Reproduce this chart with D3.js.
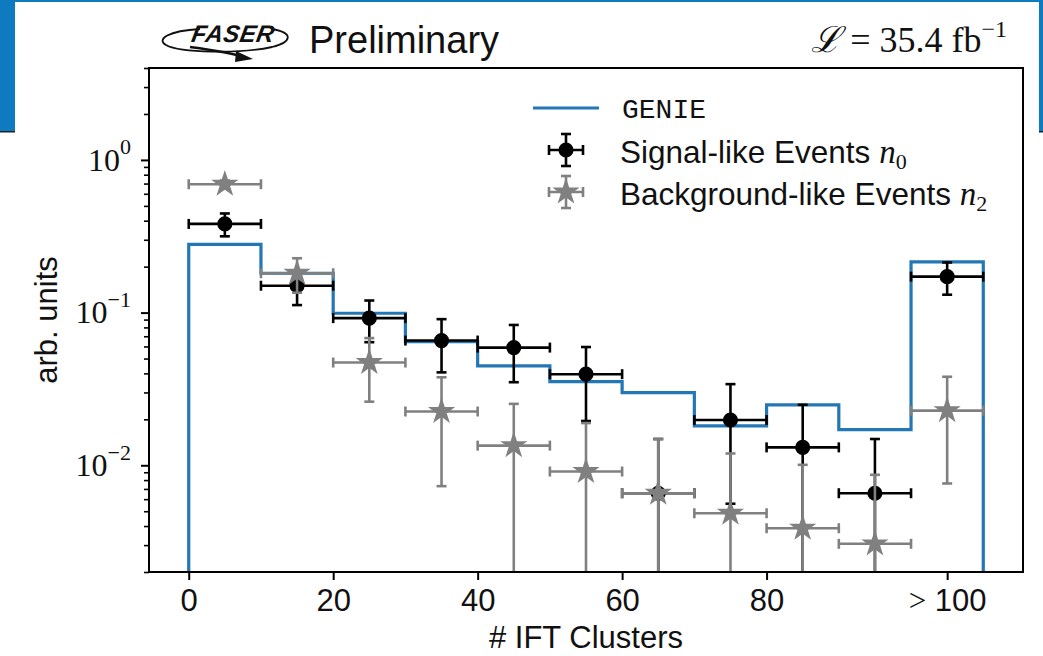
<!DOCTYPE html>
<html><head><meta charset="utf-8">
<script src="https://cdn.jsdelivr.net/npm/d3@7"></script>
<style>body{margin:0;background:#fff}svg{display:block}</style>
</head><body>
<svg id="c" width="1043" height="656"></svg>
<script>
// ---- data ----
const binEdges = [0,10,20,30,40,50,60,70,80,90,100,110];
const binCenters = [5,15,25,35,45,55,65,75,85,95,105];
const genie = [0.280,0.181,0.099,0.0645,0.0448,0.0353,0.0299,0.0181,0.0249,0.0171,0.215];
const signal = [0.381,0.150,0.092,0.0656,0.059,0.0395,0.00656,0.0198,0.0131,0.00656,0.172];
const signalErr = [0.065,0.038,0.028,0.025,0.024,0.020,0.0083,0.0142,0.0118,0.0083,0.041];
const background = [0.693,0.181,0.0471,0.0225,0.01345,0.0091,0.00656,0.00485,0.00387,0.00306,0.0228];
const backgroundErr = [0.04,0.046,0.021,0.0152,0.0118,0.0098,0.0083,0.0071,0.0062,0.0056,0.0152];
const xTickValues = [0,20,40,60,80,105];
const xTickLabels = ["0","20","40","60","80",">100"];
const yTickValues = [0.01,0.1,1];
const yTickExponents = ["\u22122","\u22121","0"];

const W=1043,H=656;
const L=149,R=1023,T=68,B=572;
const BLUE="#2477b5", GRAY="#808080";
const svg=d3.select("#c");

// header frame
svg.append("rect").attr("x",0).attr("y",0).attr("width",W).attr("height",131).attr("fill","#0e7ac0");
svg.append("rect").attr("x",15).attr("y",2).attr("width",1024).attr("height",129).attr("fill","#fff");
svg.append("rect").attr("x",0).attr("y",131).attr("width",W).attr("height",1.5).attr("fill","#222");
svg.append("rect").attr("x",15).attr("y",131).attr("width",1024).attr("height",2).attr("fill","#fff");

// logo
const lg=svg.append("g");
lg.append("path").attr("d","M200,29 C168,31 156,39 166,45 C180,53 240,54 272,47 C292,42 294,33 272,29")
  .attr("fill","none").attr("stroke","#111").attr("stroke-width",1.8);
lg.append("path").attr("d","M190,47 C212,50 232,53 244,57").attr("fill","none").attr("stroke","#111").attr("stroke-width",2.4);
lg.append("path").attr("d","M236,51 L253,59 L235,62 Z").attr("fill","#111");
lg.append("text").attr("x",192).attr("y",42).attr("font-family","Liberation Sans").attr("font-weight","bold")
  .attr("font-style","italic").attr("font-size",24).attr("letter-spacing",0.5).attr("fill","#111")
  .attr("transform","translate(6,0) skewX(-10)").text("FASER");
svg.append("text").attr("x",309).attr("y",53).attr("font-family","Liberation Sans").attr("font-size",38).attr("fill","#111").text("Preliminary");
const lum=svg.append("text").attr("x",1007).attr("y",52).attr("text-anchor","end").attr("font-family","Liberation Serif").attr("font-size",36).attr("fill","#111");
lum.append("tspan").attr("font-family","DejaVu Serif").attr("font-style","italic").text("\u2112");
lum.append("tspan").text(" = 35.4 fb");
lum.append("tspan").attr("font-size",24).attr("dy",-15).text("\u22121");

// scales
const x=d3.scaleLinear().domain([-5.5,115.5]).range([L,R]);
const y=d3.scaleLog().domain([0.002,4]).range([B,T]);

svg.append("defs").append("clipPath").attr("id","clip").append("rect").attr("x",L).attr("y",T).attr("width",R-L).attr("height",B-T);
const plot=svg.append("g").attr("clip-path","url(#clip)");

// GENIE step
const stepPts=[[binEdges[0],1e-5]];
genie.forEach((v,i)=>{stepPts.push([binEdges[i],v]);stepPts.push([binEdges[i+1],v]);});
stepPts.push([binEdges[binEdges.length-1],1e-5]);
plot.append("path").attr("d",d3.line().x(d=>x(d[0])).y(d=>y(Math.max(d[1],1e-5)))(stepPts))
  .attr("fill","none").attr("stroke",BLUE).attr("stroke-width",3.2);

function errbars(vals,errs,color,marker){
  const g=plot.append("g").attr("stroke",color).attr("stroke-width",2.6).attr("fill","none");
  vals.forEach((v,i)=>{
    const cx=x(binCenters[i]), cy=y(v);
    const x0=x(binEdges[i]), x1=x(binEdges[i+1]);
    const lo=v-errs[i], hi=v+errs[i];
    const ylo=lo>0?y(lo):B+20, yhi=y(hi);
    g.append("line").attr("x1",x0).attr("x2",x1).attr("y1",cy).attr("y2",cy);
    g.append("line").attr("x1",cx).attr("x2",cx).attr("y1",ylo).attr("y2",yhi);
    g.append("line").attr("x1",x0).attr("x2",x0).attr("y1",cy-5).attr("y2",cy+5);
    g.append("line").attr("x1",x1).attr("x2",x1).attr("y1",cy-5).attr("y2",cy+5);
    g.append("line").attr("x1",cx-5).attr("x2",cx+5).attr("y1",yhi).attr("y2",yhi);
    if(lo>0) g.append("line").attr("x1",cx-5).attr("x2",cx+5).attr("y1",ylo).attr("y2",ylo);
  });
  plot.append("g").selectAll("path").data(vals).join("path")
    .attr("transform",(d,i)=>`translate(${x(binCenters[i])},${y(d)})`)
    .attr("d",marker).attr("fill",color);
}
errbars(signal,signalErr,"#000",d3.symbol(d3.symbolCircle,180)());
errbars(background,backgroundErr,GRAY,d3.symbol(d3.symbolStar,230)());

// axes
const xa=svg.append("g").attr("transform",`translate(0,${B})`)
  .call(d3.axisBottom(x).tickValues(xTickValues).tickSize(8).tickPadding(9).tickFormat((d,i)=>xTickLabels[i]));
xa.select(".domain").remove();
xa.selectAll(".tick line").attr("stroke","#000").attr("stroke-width",2);
xa.selectAll(".tick text").attr("font-family","Liberation Sans").attr("font-size",31).attr("fill","#111");
xa.selectAll(".tick text").filter((d,i)=>i===xTickValues.length-1).each(function(){
  const t=d3.select(this); t.text("");
  t.append("tspan").attr("font-family","Liberation Serif").text(">");
  t.append("tspan").text(" 100");
});
const ya=svg.append("g").attr("transform",`translate(${L},0)`)
  .call(d3.axisLeft(y).tickValues(yTickValues).tickSize(8).tickPadding(10).tickFormat(""));
ya.select(".domain").remove();
ya.selectAll(".tick line").attr("stroke","#000").attr("stroke-width",2);
ya.selectAll(".tick text").each(function(d,i){
  const t=d3.select(this).attr("font-family","Liberation Serif").attr("font-size",32).attr("fill","#111");
  t.append("tspan").text("10");
  t.append("tspan").attr("font-size",22).attr("dy","-0.75em").text(yTickExponents[i]);
});
const minor=[];
[0.001,0.01,0.1,1].forEach(dd=>{for(let k=2;k<=9;k++){const v=dd*k; if(v>=0.002&&v<=4) minor.push(v);}});
const ym=svg.append("g").attr("transform",`translate(${L},0)`)
  .call(d3.axisLeft(y).tickValues(minor).tickSize(5).tickFormat(""));
ym.select(".domain").remove();
ym.selectAll(".tick line").attr("stroke","#000").attr("stroke-width",1.6);

svg.append("rect").attr("x",L).attr("y",T).attr("width",R-L).attr("height",B-T).attr("fill","none").attr("stroke","#000").attr("stroke-width",2);

svg.append("text").attr("x",(L+R)/2).attr("y",648).attr("text-anchor","middle").attr("font-family","Liberation Sans").attr("font-size",31).attr("fill","#111").text("# IFT Clusters");
svg.append("text").attr("transform",`translate(57,${(T+B)/2}) rotate(-90)`).attr("text-anchor","middle").attr("font-family","Liberation Sans").attr("font-size",31).attr("fill","#111").text("arb. units");

// legend
const leg=svg.append("g");
leg.append("line").attr("x1",533).attr("x2",599).attr("y1",108).attr("y2",108).attr("stroke",BLUE).attr("stroke-width",3.2);
leg.append("text").attr("x",622).attr("y",118).attr("font-family","Liberation Mono").attr("font-size",28).attr("fill","#111").text("GENIE");
function legMark(cy,color,marker){
  const g=leg.append("g").attr("stroke",color).attr("stroke-width",2.6);
  g.append("line").attr("x1",549).attr("x2",583).attr("y1",cy).attr("y2",cy);
  g.append("line").attr("x1",566).attr("x2",566).attr("y1",cy-16).attr("y2",cy+16);
  g.append("line").attr("x1",549).attr("x2",549).attr("y1",cy-5).attr("y2",cy+5);
  g.append("line").attr("x1",583).attr("x2",583).attr("y1",cy-5).attr("y2",cy+5);
  g.append("line").attr("x1",561).attr("x2",571).attr("y1",cy-16).attr("y2",cy-16);
  g.append("line").attr("x1",561).attr("x2",571).attr("y1",cy+16).attr("y2",cy+16);
  leg.append("path").attr("transform",`translate(566,${cy})`).attr("d",marker).attr("fill",color);
}
legMark(150,"#000",d3.symbol(d3.symbolCircle,180)());
legMark(192,GRAY,d3.symbol(d3.symbolStar,230)());
function legText(yb,txt,sub){
  const t=leg.append("text").attr("x",620).attr("y",yb).attr("font-family","Liberation Sans").attr("font-size",31.5).attr("fill","#111");
  t.append("tspan").text(txt+" ");
  t.append("tspan").attr("font-family","Liberation Serif").attr("font-style","italic").attr("font-size",33).text("n");
  t.append("tspan").attr("font-family","Liberation Serif").attr("font-size",22).attr("dy",6).text(sub);
}
legText(163,"Signal-like Events","0");
legText(205,"Background-like Events","2");
</script>
</body></html>
